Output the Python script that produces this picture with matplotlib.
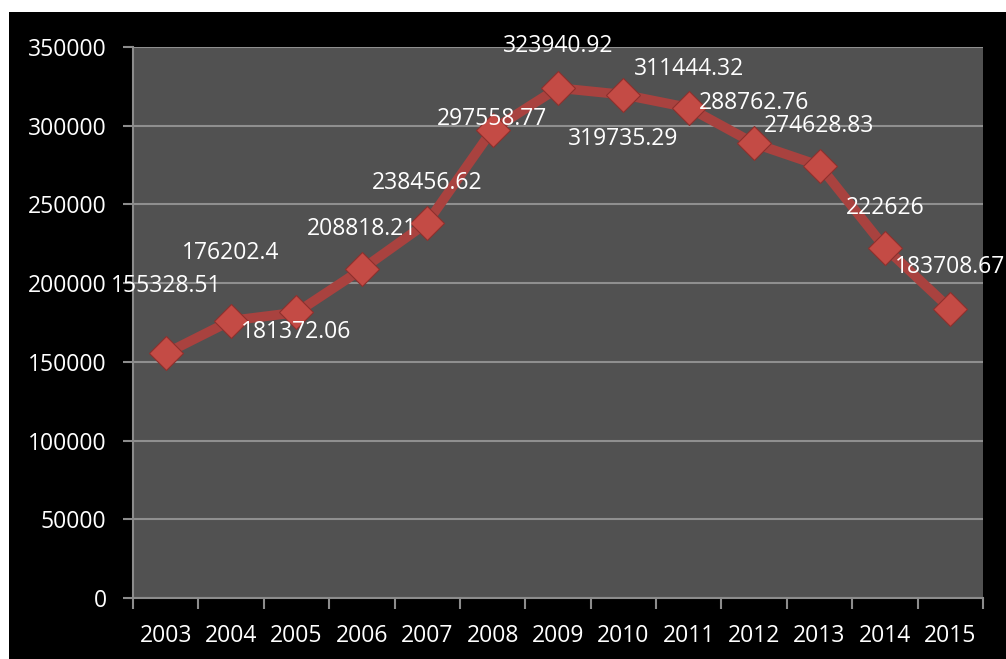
import matplotlib.pyplot as plt
from matplotlib.patches import Rectangle

years = ['2003', '2004', '2005', '2006', '2007', '2008', '2009',
         '2010', '2011', '2012', '2013', '2014', '2015']
values = [155328.51, 176202.4, 181372.06, 208818.21, 238456.62, 297558.77,
          323940.92, 319735.29, 311444.32, 288762.76, 274628.83, 222626,
          183708.67]
labels = ['155328.51', '176202.4', '181372.06', '208818.21', '238456.62',
          '297558.77', '323940.92', '319735.29', '311444.32', '288762.76',
          '274628.83', '222626', '183708.67']
# label offsets in pixels (dx, dy) relative to the point
label_dy = [67, 68, -20, 40, 40, 11, 42, -44, 39, 40, 40, 40, 42]
label_dx = [0, 0, 0, 0, 0, -1, 0, 0, 0, 0, 0, 0, 0]

plt.rcParams['font.family'] = ['Open Sans', 'DejaVu Sans']

W, H = 1006, 659
fig = plt.figure(figsize=(W / 100, H / 100), dpi=100, facecolor='white')
fig.patches.append(Rectangle((9 / W, 0), 1, 1 - 12 / H, transform=fig.transFigure,
                             facecolor='black', edgecolor='none', zorder=-1))

ax = fig.add_axes([133 / W, 1 - 598 / H, (983 - 133) / W, (598 - 47) / H])
ax.set_facecolor('#515151')

x = list(range(len(years)))
ax.plot(x, values, color='#a9423f', lw=7, solid_capstyle='butt', zorder=3)
ax.plot(x, values, linestyle='none', marker='D', markersize=17,
        markerfacecolor='#c44b45', markeredgecolor='#8e302d', markeredgewidth=0.8,
        zorder=4)

for xi, v, lab, dx, dy in zip(x, values, labels, label_dx, label_dy):
    ax.annotate(lab, (xi, v), xytext=(dx, dy), textcoords='offset pixels',
                ha='center', va='center', color='white', fontsize=16.5,
                annotation_clip=False, zorder=5)

ax.set_xlim(-0.5, len(years) - 0.5)
ax.set_ylim(0, 350000)
ax.set_yticks(range(0, 350001, 50000))
ax.set_yticklabels([str(t) for t in range(0, 350001, 50000)])
ax.set_xticks([i - 0.5 for i in range(len(years) + 1)])
ax.set_xticklabels([])
ax.set_xticks(x, minor=True)
ax.set_xticklabels(years, minor=True)

ax.tick_params(axis='y', colors='#8c8c8c', labelcolor='white', labelsize=16.5,
               length=7, width=1.5, pad=12)
ax.tick_params(axis='x', which='major', colors='#8c8c8c', length=8, width=1.5,
               direction='out')
ax.tick_params(axis='x', which='minor', length=0, labelcolor='white',
               labelsize=16.5, pad=19)

ax.grid(axis='y', color='#8f8f8f', lw=1.5)
ax.set_axisbelow(True)
for side in ['top', 'right']:
    ax.spines[side].set_visible(False)
for side in ['left', 'bottom']:
    ax.spines[side].set_color('#8c8c8c')
    ax.spines[side].set_linewidth(1.5)

fig.savefig('out.png', dpi=100, facecolor=fig.get_facecolor())
